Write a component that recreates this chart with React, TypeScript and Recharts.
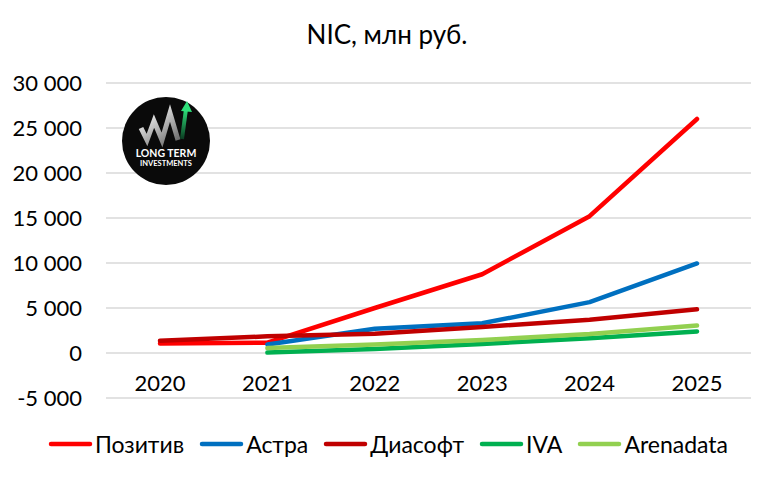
import React from 'react';
import { LineChart, Line, XAxis, YAxis, CartesianGrid, Legend } from 'recharts';

const years = ['2020', '2021', '2022', '2023', '2024', '2025'];
const positive = [1050, 1150, 5000, 8750, 15200, 26000];
const astra = [null, 950, 2700, 3300, 5650, 9950];
const diasoft = [1350, 1850, 2150, 2900, 3700, 4850];
const iva = [null, 50, 450, 1000, 1650, 2400];
const arenadata = [null, 550, 950, 1450, 2100, 3050];
const yTicks = [-5000, 0, 5000, 10000, 15000, 20000, 25000, 30000];

const seriesNames = ['Позитив', 'Астра', 'Диасофт', 'IVA', 'Arenadata'];
const seriesColors = ['#FF0000', '#0070C0', '#C00000', '#00B050', '#92D050'];
const seriesValues = [positive, astra, diasoft, iva, arenadata];

const data = years.map((y, i) => {
  const row: any = { year: y };
  seriesNames.forEach((n, k) => {
    row[n] = seriesValues[k][i];
  });
  return row;
});

const FONT = 'Lato, "Open Sans", sans-serif';

const fmt = (v: number) => String(v).replace(/\B(?=(\d{3})+(?!\d))/g, ' ');

const renderXTick = (props: any) => {
  const { x, y, payload } = props;
  return (
    <text x={x} y={y - 7} textAnchor="middle" fontSize={22} fontFamily={FONT} fill="#000">
      {payload.value}
    </text>
  );
};

const renderLegend = (props: any) => {
  const items = [...(props.payload || [])].sort(
    (a: any, b: any) => seriesNames.indexOf(a.value) - seriesNames.indexOf(b.value)
  );
  return (
    <div
      style={{
        display: 'flex',
        justifyContent: 'center',
        alignItems: 'center',
        fontFamily: FONT,
        fontSize: 23,
        color: '#000',
        lineHeight: '26px',
      }}
    >
      {items.map((e: any, i: number) => (
        <div key={i} style={{ display: 'flex', alignItems: 'center', marginRight: i < 4 ? 15 : 0 }}>
          <svg width={45} height={10}>
            <line x1={3} y1={5} x2={42} y2={5} stroke={e.color} strokeWidth={4.5} strokeLinecap="round" />
          </svg>
          <span style={{ marginLeft: 2 }}>{e.value}</span>
        </div>
      ))}
    </div>
  );
};

const Logo = () => (
  <g>
    <defs>
      <linearGradient id="stripe" x1="0" y1="0" x2="1" y2="1">
        <stop offset="0%" stopColor="#ffffff" />
        <stop offset="100%" stopColor="#6e6e6e" />
      </linearGradient>
      <linearGradient id="arrow" x1="0" y1="1" x2="0" y2="0">
        <stop offset="0%" stopColor="#0b3d22" />
        <stop offset="100%" stopColor="#2ee07a" />
      </linearGradient>
    </defs>
    <circle cx={166} cy={141} r={44} fill="#0a0a0a" />
    <polyline
      points="141,128 147,140 154,121 162,140 170,113 178,140"
      fill="none"
      stroke="url(#stripe)"
      strokeWidth={5}
      strokeLinejoin="miter"
    />
    <line x1={182} y1={139} x2={186} y2={109} stroke="url(#arrow)" strokeWidth={4} />
    <polygon points="187,101 181,111 192,112" fill="#2ee07a" />
    <text x={166} y={157} textAnchor="middle" fontSize={10.5} fontWeight={700} fontFamily={FONT} fill="#fff">
      LONG TERM
    </text>
    <text x={166} y={166} textAnchor="middle" fontSize={7.5} fontWeight={700} fontFamily={FONT} fill="#fff">
      INVESTMENTS
    </text>
  </g>
);

export default function App() {
  return (
    <div style={{ position: 'absolute', left: 0, top: 0, width: 776, height: 480, background: '#fff' }}>
      <LineChart
        width={776}
        height={480}
        data={data}
        margin={{ top: 83, right: 25, bottom: 52, left: 16 }}
      >
        <CartesianGrid vertical={false} stroke="#D9D9D9" strokeWidth={1.3} />
        <XAxis
          dataKey="year"
          axisLine={false}
          tickLine={false}
          tickSize={0}
          tickMargin={0}
          height={30}
          interval={0}
          padding={{ left: 54, right: 54 }}
          tick={renderXTick}
        />
        <YAxis
          width={90}
          domain={[-5000, 30000]}
          ticks={yTicks}
          interval={0}
          axisLine={false}
          tickLine={false}
          tickSize={0}
          tickMargin={24}
          tickFormatter={fmt}
          tick={{ fill: '#000', fontSize: 22, fontFamily: FONT }}
        />
        <Legend
          layout="horizontal"
          verticalAlign="middle"
          align="center"
          content={renderLegend}
          wrapperStyle={{ top: 431, left: 0, width: 776 }}
        />
        {seriesNames.map((n, k) => (
          <Line
            key={n}
            type="linear"
            dataKey={n}
            name={n}
            stroke={seriesColors[k]}
            strokeWidth={4.5}
            strokeLinecap="round"
            strokeLinejoin="round"
            dot={false}
            activeDot={false}
            isAnimationActive={false}
          />
        ))}
      </LineChart>
      <svg
        width={776}
        height={480}
        style={{ position: 'absolute', left: 0, top: 0, pointerEvents: 'none' }}
      >
        <text x={387} y={44} textAnchor="middle" fontSize={26} fontFamily={FONT} fill="#000">
          NIC, млн руб.
        </text>
        <Logo />
      </svg>
    </div>
  );
}
